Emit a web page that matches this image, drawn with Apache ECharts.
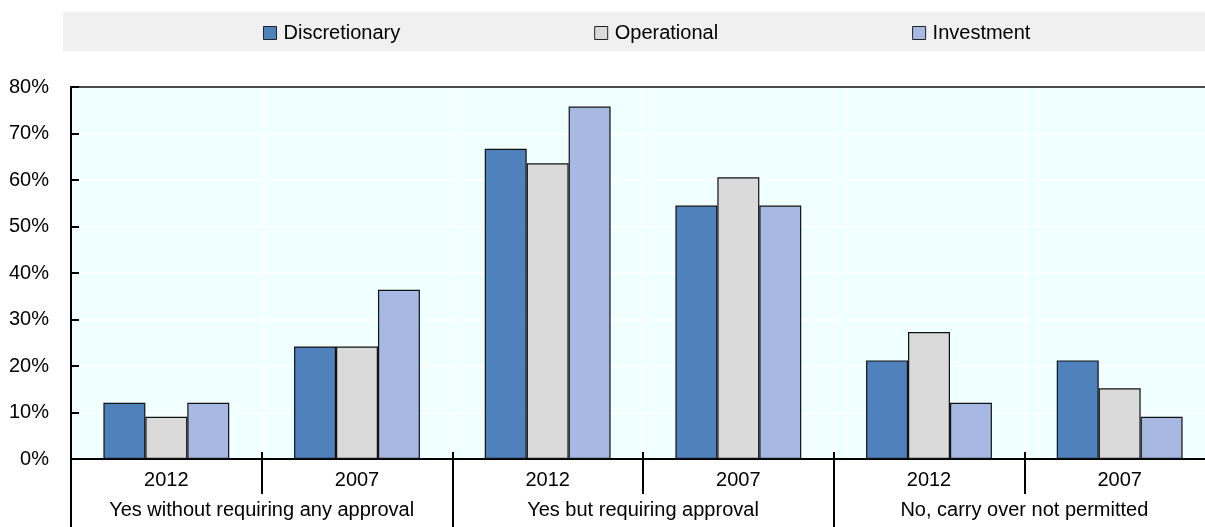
<!DOCTYPE html>
<html>
<head>
<meta charset="utf-8">
<script src="https://cdn.jsdelivr.net/npm/echarts@6/dist/echarts.min.js"></script>
<style>
  html, body { margin: 0; padding: 0; background: #ffffff; }
  #chart { width: 1205px; height: 527px; }
</style>
</head>
<body>
<div id="chart"></div>
<script>
// Budget carry-over rules, share of countries
const years = ['2012', '2007', '2012', '2007', '2012', '2007'];
const groups = ['Yes without requiring any approval', 'Yes but requiring approval', 'No, carry over not permitted'];
const seriesNames = ['Discretionary', 'Operational', 'Investment'];
const discretionary = [12.1, 24.2, 66.7, 54.5, 21.2, 21.2];
const operational = [9.1, 24.2, 63.6, 60.6, 27.3, 15.2];
const investment = [12.1, 36.4, 75.8, 54.5, 12.1, 9.1];
const colors = ['#4f81bd', '#dadada', '#a7b9e3'];

const FONT = "'Liberation Sans', Arial, sans-serif";
const FS = 20;
const chart = echarts.init(document.getElementById('chart'), null, { renderer: 'canvas' });

const values = [discretionary, operational, investment];

chart.setOption({
  animation: false,
  textStyle: { fontFamily: FONT },
  graphic: [{
    type: 'rect',
    z: -1,
    shape: { x: 63, y: 12, width: 1142, height: 39 },
    style: { fill: '#f0f0f0' }
  }],
  legend: {
    left: 263,
    top: 23,
    padding: 0,
    itemGap: 194,
    itemWidth: 13,
    itemHeight: 13,
    icon: 'rect',
    itemStyle: { borderColor: '#222', borderWidth: 1 },
    textStyle: { fontFamily: FONT, fontSize: FS, color: '#000', padding: [0, 0, 0, 2] },
    data: seriesNames
  },
  grid: {
    left: 71,
    top: 87,
    width: 1144,
    height: 372,
    show: true,
    backgroundColor: '#f0ffff',
    borderWidth: 0,
    containLabel: false,
    outerBoundsMode: 'none'
  },
  xAxis: [
    {
      type: 'category',
      data: years,
      position: 'bottom',
      axisLine: { lineStyle: { color: '#000', width: 2 } },
      axisTick: { show: true, interval: 0, length: 35, lineStyle: { color: '#000', width: 2 } },
      axisLabel: { interval: 0, margin: 11, fontSize: FS, color: '#000', fontFamily: FONT },
      splitLine: { show: true, interval: 0, lineStyle: { color: '#ffffff', width: 1.5 } }
    },
    {
      type: 'category',
      data: years,
      position: 'bottom',
      axisLine: { show: false },
      axisTick: { show: true, inside: true, interval: 0, length: 7, lineStyle: { color: '#000', width: 2 } },
      axisLabel: { show: false },
      splitLine: { show: false }
    },
    {
      type: 'category',
      data: groups,
      position: 'bottom',
      axisLine: { show: false },
      axisTick: { show: true, interval: 0, length: 80, lineStyle: { color: '#000', width: 2 } },
      axisLabel: { interval: 0, margin: 41, fontSize: FS, color: '#000', fontFamily: FONT },
      splitLine: { show: false }
    },
    {
      // top frame line of the plot area
      type: 'category',
      data: years,
      position: 'top',
      axisLine: { show: true, lineStyle: { color: '#111', width: 1.5 } },
      axisTick: { show: false },
      axisLabel: { show: false },
      splitLine: { show: false }
    }
  ],
  yAxis: {
    type: 'value',
    min: 0,
    max: 80,
    interval: 10,
    axisLine: { show: true, lineStyle: { color: '#000', width: 2 } },
    axisTick: { show: true, inside: true, length: 8, lineStyle: { color: '#000', width: 2 } },
    axisLabel: { formatter: '{value}%', margin: 22, fontSize: FS, color: '#000', fontFamily: FONT },
    splitLine: { show: true, lineStyle: { color: '#ffffff', width: 1.5 } }
  },
  series: seriesNames.map((name, i) => ({
    name: name,
    type: 'bar',
    xAxisIndex: 0,
    barGap: '0%',
    barCategoryGap: '34%',
    data: values[i],
    itemStyle: { color: colors[i], borderColor: '#111', borderWidth: 1.2 }
  }))
});
</script>
</body>
</html>
